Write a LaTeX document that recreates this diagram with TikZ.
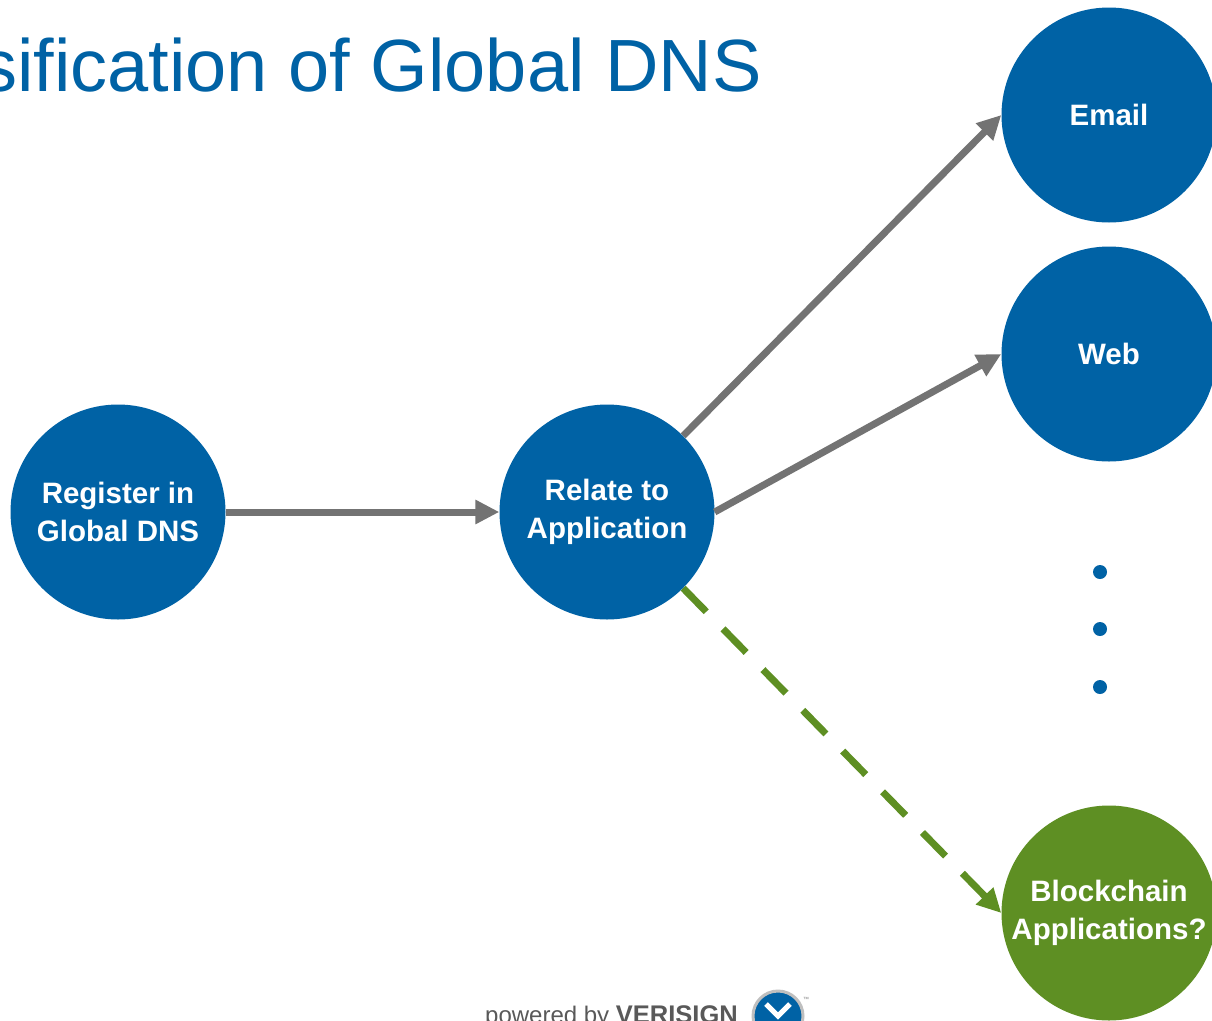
\documentclass[tikz,border=0pt]{standalone}
\usepackage{fontspec}
\setmainfont{Liberation Sans}
\setsansfont{Liberation Sans}
\usetikzlibrary{arrows.meta}
\definecolor{dnsblue}{HTML}{0062A5}
\definecolor{dnsgreen}{HTML}{5E8F23}
\definecolor{dnsgray}{HTML}{737373}
\begin{document}
\begin{tikzpicture}[x=1pt,y=-1pt,font=\sffamily,
    >={Triangle[length=24pt,width=23pt]},
    topic/.style={circle,fill=dnsblue,text=white,inner sep=0pt,minimum size=215pt,
        align=center,font=\sffamily\bfseries\fontsize{29.5}{38}\selectfont},
    link/.style={->,dnsgray,line width=7pt},
    maybe/.style={->,dnsgreen,line width=7pt,dash pattern=on 33pt off 24pt}]
    \useasboundingbox (0,0) rectangle (1212,1020);
    \fill [white] (0,0) rectangle (1212,1020);
    \node [anchor=base west,inner sep=0pt,text=dnsblue,font=\fontsize{74}{80}\selectfont] (Title) at (-20,91) {sification of Global DNS};
    \node [topic] (Register) at (118,512) {Register in\\Global DNS};
    \node [topic] (Relate) at (607,512) {Relate to\\Application};
    \node [topic] (Email) at (1109,115) {Email};
    \node [topic] (Web) at (1109,354) {Web};
    \node [topic,fill=dnsgreen] (Chain) at (1109,913) {Blockchain\\Applications?};
    \foreach \y in {572,629,687}
        \fill [dnsblue] (1100,\y) circle (7);
    \draw [link] (Register.east) -- (Relate.west);
    \draw [link] (Relate.45) -- (Email.west);
    \draw [link] (Relate.east) -- (Web.west);
    \draw [maybe] (Relate.-45) -- (Chain.west);
    % footer logo
    \node [anchor=base west,inner sep=0pt,text=black!65,font=\fontsize{24}{28}\selectfont] (Powered) at (485,1023) {powered by \textbf{\fontsize{25.5}{28}\selectfont VERISIGN}};
    \node [circle,fill=dnsblue,draw=black!25,line width=3pt,minimum size=50pt,inner sep=0pt] (Logo) at (778,1016) {};
    \draw [white,line width=5pt] (766,1004) -- (778,1016) -- (790,1004);
    \node [inner sep=0pt,text=black!50,font=\fontsize{6}{7}\selectfont] (TM) at (806,999) {™};
\end{tikzpicture}
\end{document}
